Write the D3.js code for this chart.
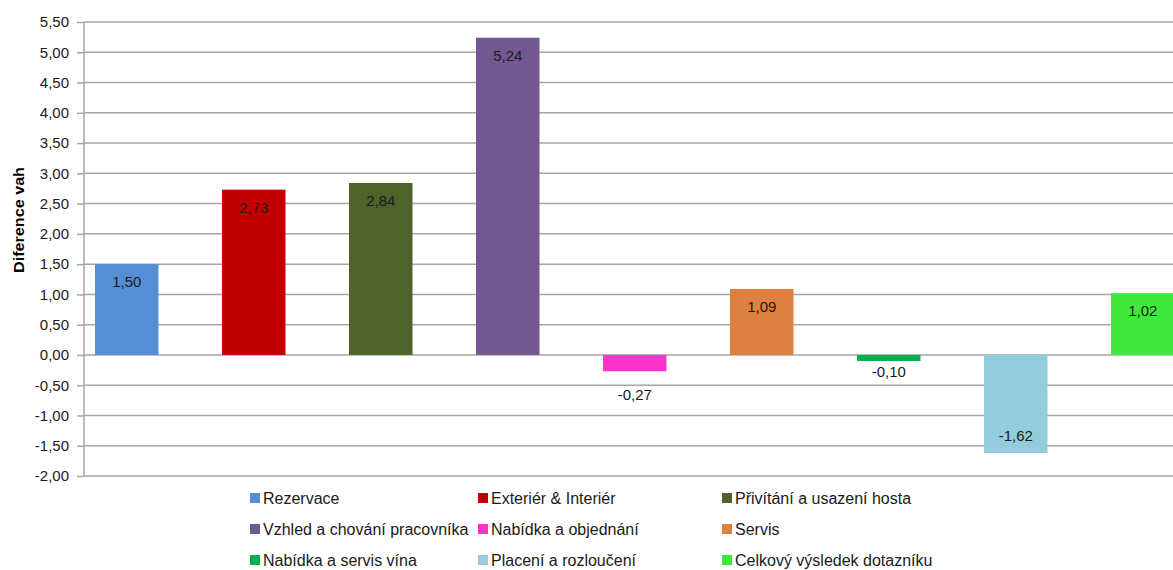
<!DOCTYPE html>
<html><head><meta charset="utf-8">
<script src="https://cdn.jsdelivr.net/npm/d3@7"></script>
<style>body{margin:0;background:#fff}svg{display:block;font-family:"Liberation Sans",Arial,sans-serif}</style>
</head><body><svg id="c" width="1173" height="570"></svg>
<script>
const categories = ["Rezervace","Exteriér & Interiér","Přivítání a usazení hosta","Vzhled a chování pracovníka","Nabídka a objednání","Servis","Nabídka a servis vína","Placení a rozloučení","Celkový výsledek dotazníku"];
const values = [1.50, 2.73, 2.84, 5.24, -0.27, 1.09, -0.10, -1.62, 1.02];
const colors = ["#558ED5","#C00000","#4F6228","#71588F","#FF33CC","#DD8040","#00B050","#93CDDD","#40E83C"];
const yTicks = [-2,-1.5,-1,-0.5,0,0.5,1,1.5,2,2.5,3,3.5,4,4.5,5,5.5];
const yTitle = "Diference vah";

const svg = d3.select("#c");
const fmt = v => d3.format(".2f")(v).replace("\u2212", "-").replace(".", ",");
const y = d3.scaleLinear().domain([-2, 5.5]).range([476, 22]);
const x = d3.scaleBand().domain(categories).range([63.25, 1206.25]).paddingInner(0.5).paddingOuter(0.25);
const axisX = 84;

// gridlines + ticks
const yAxis = d3.axisLeft(y).tickValues(yTicks).tickSize(7).tickFormat(fmt).tickPadding(8);
const ga = svg.append("g").attr("transform", `translate(${axisX},0)`).call(yAxis);
ga.select(".domain").attr("stroke", "#a6a6a6").attr("stroke-width", 1.5).attr("d", `M0,${y(5.5)}V${y(-2)}`);
ga.selectAll(".tick line").attr("stroke", "#a6a6a6").attr("stroke-width", 1.5);
ga.selectAll(".tick text").attr("fill", "#1a1a1a").style("font-size", "15px");
svg.append("g").selectAll("line").data(yTicks).join("line")
  .attr("x1", axisX).attr("x2", 1173).attr("y1", d => y(d)).attr("y2", d => y(d))
  .attr("stroke", "#a6a6a6").attr("stroke-width", 1.5);

// bars
svg.append("g").selectAll("rect").data(values).join("rect")
  .attr("x", (d, i) => x(categories[i])).attr("width", x.bandwidth())
  .attr("y", d => y(Math.max(0, d))).attr("height", d => Math.abs(y(d) - y(0)))
  .attr("fill", (d, i) => colors[i]);

// labels
svg.append("g").selectAll("text").data(values).join("text")
  .attr("x", (d, i) => x(categories[i]) + x.bandwidth() / 2)
  .attr("y", d => {
    const h = Math.abs(y(d) - y(0));
    if (d >= 0) return y(d) + 23;
    if (h > 30) return y(d) - 12;
    return h > 10 ? y(d) + 29 : y(d) + 16;
  })
  .attr("text-anchor", "middle").attr("fill", "#1a1a1a").style("font-size", "15px")
  .text(fmt);

// y title
svg.append("text").attr("transform", `translate(24,220) rotate(-90)`).attr("text-anchor", "middle")
  .style("font-size", "15px").style("font-weight", "bold").attr("fill", "#000")
  .attr("textLength", 106).attr("lengthAdjust", "spacingAndGlyphs").text(yTitle);

// legend
const colX = [250, 478, 722], rowY = [498, 529, 560];
const lg = svg.append("g").selectAll("g").data(categories).join("g")
  .attr("transform", (d, i) => `translate(${colX[i % 3]},${rowY[Math.floor(i / 3)]})`);
lg.append("rect").attr("x", 0).attr("y", -5).attr("width", 10).attr("height", 10).attr("fill", (d, i) => colors[i]);
lg.append("text").attr("x", 13).attr("y", 5.5).style("font-size", "16px").attr("fill", "#1a1a1a").text(d => d);
</script></body></html>
